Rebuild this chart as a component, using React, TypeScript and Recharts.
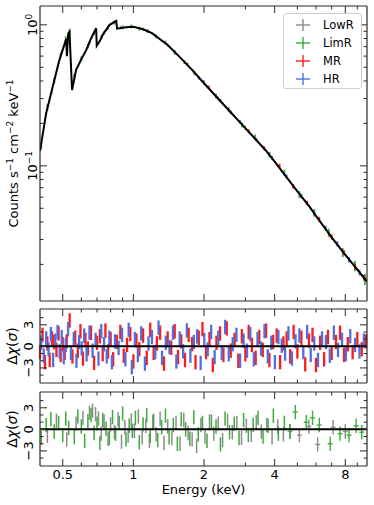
import React from "react";
import {
  ComposedChart,
  Line,
  Scatter,
  ErrorBar,
  XAxis,
  YAxis,
  ReferenceLine,
} from "recharts";

const FONT = "'DejaVu Sans', sans-serif";
const INK = "#2a2a2a";

const GRAY = "#8c8c8c";
const GREEN = "#3aad3a";
const RED = "#ff1a1a";
const BLUE = "#4f70e3";

// energy axis (keV, log)
const E_DOMAIN = [0.4, 9.9];
const E_MAJOR = [0.5, 1, 2, 4, 8];
const E_MAJOR_LABELS = ["0.5", "1", "2", "4", "8"];
const E_MINOR = [0.6, 0.7, 0.8, 0.9, 3, 5, 6, 7, 9];

// spectrum axis (log)
const FLUX_DOMAIN = [0.011, 1.36];
const FLUX_MAJOR = [0.1, 1];
const FLUX_MAJOR_EXP = ["−1", "0"];
const FLUX_MINOR = [0.02, 0.03, 0.04, 0.05, 0.06, 0.07, 0.08, 0.09, 0.2, 0.3, 0.4, 0.5, 0.6, 0.7, 0.8, 0.9];

// residual axes
const RES_DOMAIN = [-5.1, 5.2];
const RES_MAJOR = [-3, 0, 3];
const RES_MAJOR_LABELS = ["−3", "0", "3"];
const RES_MINOR = [-4, -2, -1, 1, 2, 4];
const SIGMA = 1;

// best-fit model
const MODEL_E = [0.4, 0.425, 0.453, 0.484, 0.505, 0.517, 0.521, 0.527, 0.534, 0.548,
  0.57, 0.6, 0.63, 0.66, 0.694, 0.698, 0.72, 0.74, 0.792, 0.845,
  0.852, 0.9, 0.95, 1.0, 1.1, 1.2, 1.4, 1.57, 1.8, 2.0,
  2.5, 3.0, 3.66, 4.0, 5.0, 5.64, 6.0, 7.0, 7.82, 9.0, 9.9];
const MODEL_F = [0.127, 0.236, 0.364, 0.564, 0.7, 0.795, 0.6, 0.86, 0.896, 0.345,
  0.479, 0.57, 0.664, 0.8, 0.947, 0.71, 0.77, 0.849, 1.0, 1.068,
  0.94, 0.955, 0.965, 0.97, 0.93, 0.873, 0.72, 0.595, 0.47, 0.385,
  0.257, 0.185, 0.129, 0.107, 0.0659, 0.0511, 0.0442, 0.0311, 0.0245, 0.0184, 0.0151];

// spectra
const LOWR_E = [0.45, 0.55, 0.65, 0.75, 0.88, 1.1, 1.4, 1.8, 2.3, 3.0];
const LOWR_F = [0.34, 0.36, 0.74, 0.88, 0.96, 0.93, 0.72, 0.47, 0.3, 0.186];
const LOWR_DF = [0.015, 0.015, 0.025, 0.025, 0.025, 0.025, 0.02, 0.015, 0.01, 0.007];

const LIMR_E = [0.405, 0.43, 0.46, 0.49, 0.515, 0.535, 0.56, 0.6, 0.64, 0.68,
  0.73, 0.78, 0.83, 0.9, 0.98, 1.06, 1.15, 1.25, 1.37, 1.5,
  1.65, 1.82, 2.0, 2.25, 2.55, 2.9, 3.3, 3.8, 4.4, 5.1,
  5.9, 6.8, 7.8, 8.8, 9.7];
const LIMR_F = [0.14, 0.26, 0.4, 0.61, 0.8, 0.88, 0.43, 0.575, 0.705, 0.875,
  0.815, 0.955, 1.04, 0.96, 0.975, 0.94, 0.905, 0.83, 0.75, 0.635,
  0.545, 0.455, 0.39, 0.312, 0.25, 0.195, 0.16, 0.12, 0.0895, 0.0625,
  0.0465, 0.0335, 0.0243, 0.0195, 0.0157];
const LIMR_DF = [0.009, 0.014, 0.018, 0.024, 0.03, 0.033, 0.02, 0.023, 0.026, 0.03,
  0.028, 0.031, 0.034, 0.03, 0.03, 0.03, 0.028, 0.027, 0.024, 0.021,
  0.018, 0.016, 0.014, 0.012, 0.01, 0.008, 0.007, 0.0055, 0.0045, 0.0036,
  0.0029, 0.0023, 0.0018, 0.0016, 0.0014];

const MR_SPEC_E = [1.7, 2.1, 2.6, 3.1, 3.6, 4.2, 4.8, 5.5, 6.2, 7.0, 7.9, 8.8, 9.6];
const MR_SPEC_F = [0.525, 0.362, 0.24, 0.176, 0.134, 0.1, 0.0715, 0.0545, 0.0418, 0.0313, 0.0242, 0.0193, 0.0161];
const MR_SPEC_DF = [0.014, 0.01, 0.007, 0.0055, 0.0042, 0.0034, 0.0026, 0.002, 0.0017, 0.0013, 0.0011, 0.0009, 0.0008];

const HR_SPEC_E = [1.5, 1.9, 2.35, 2.85, 3.35, 3.9, 4.5, 5.2, 5.9, 6.6, 7.4, 8.3, 9.2];
const HR_SPEC_F = [0.645, 0.42, 0.29, 0.205, 0.153, 0.114, 0.084, 0.061, 0.0465, 0.0362, 0.028, 0.0216, 0.0175];
const HR_SPEC_DF = [0.016, 0.011, 0.008, 0.006, 0.0046, 0.0036, 0.0029, 0.0023, 0.0018, 0.0014, 0.0012, 0.001, 0.0008];

// residuals, panel 1
const MR_E = [0.40, 0.41, 0.42, 0.43, 0.44, 0.45, 0.46, 0.47, 0.48, 0.49,
  0.50, 0.51, 0.52, 0.535, 0.55, 0.565, 0.58, 0.595, 0.61, 0.625,
  0.64, 0.66, 0.68, 0.70, 0.72, 0.74, 0.76, 0.78, 0.80, 0.82,
  0.85, 0.88, 0.91, 0.94, 0.97, 1.00, 1.03, 1.06, 1.10, 1.14,
  1.18, 1.22, 1.26, 1.30, 1.35, 1.40, 1.45, 1.50, 1.55, 1.60,
  1.66, 1.72, 1.78, 1.84, 1.90, 1.97, 2.04, 2.11, 2.18, 2.26,
  2.34, 2.42, 2.50, 2.60, 2.70, 2.80, 2.90, 3.00, 3.10, 3.20,
  3.32, 3.44, 3.56, 3.68, 3.80, 3.94, 4.08, 4.22, 4.36, 4.50,
  4.66, 4.82, 5.00, 5.20, 5.40, 5.60, 5.80, 6.00, 6.25, 6.50,
  6.75, 7.00, 7.30, 7.60, 7.90, 8.20, 8.60, 9.00, 9.40, 9.80];
const MR_R = [-0.8, 1.6, -2.2, 0.4, -1.9, 1.1, 0.6, -0.5, 1.8, -1.2,
  0.3, -0.9, 0.7, 3.6, -1.4, 1.2, -0.6, 2.1, -1.7, 0.9,
  -0.3, 1.9, -2.3, 0.5, 1.4, -1.1, 2.2, -0.7, 1.0, -1.8,
  0.6, 2.0, -1.3, 0.2, 1.7, -2.1, 0.8, -0.4, 1.5, -1.6,
  2.3, -0.9, 0.4, 1.9, -2.4, 1.1, -0.2, 2.1, -1.5, 0.7,
  -1.9, 1.6, 0.3, -2.2, 1.2, 2.4, -0.8, 1.0, -2.6, 0.5,
  1.8, -1.2, 2.5, -0.6, 0.9, -2.0, 1.4, -1.1, 2.0, 0.2,
  -1.6, 1.3, -0.5, 2.2, -1.9, 0.6, 1.5, -2.2, 0.4, 1.1,
  -1.4, 2.0, -0.7, 1.2, -2.5, 0.8, 1.6, -2.6, 0.5, -1.8,
  1.3, -0.9, 0.6, 1.9, -1.2, 0.3, -0.8, 1.0, -0.4, 0.7];

const HR_E = [0.405, 0.415, 0.425, 0.435, 0.445, 0.455, 0.465, 0.475, 0.485, 0.495,
  0.505, 0.515, 0.527, 0.542, 0.557, 0.572, 0.587, 0.602, 0.617, 0.632,
  0.65, 0.67, 0.69, 0.71, 0.73, 0.75, 0.77, 0.79, 0.81, 0.835,
  0.865, 0.895, 0.925, 0.955, 0.985, 1.015, 1.045, 1.08, 1.12, 1.16,
  1.20, 1.24, 1.28, 1.325, 1.375, 1.425, 1.475, 1.525, 1.575, 1.63,
  1.69, 1.75, 1.81, 1.87, 1.935, 2.005, 2.075, 2.145, 2.22, 2.30,
  2.38, 2.46, 2.55, 2.65, 2.75, 2.85, 2.95, 3.05, 3.15, 3.26,
  3.38, 3.50, 3.62, 3.74, 3.87, 4.01, 4.15, 4.29, 4.43, 4.58,
  4.74, 4.91, 5.10, 5.30, 5.50, 5.70, 5.90, 6.12, 6.37, 6.62,
  6.87, 7.15, 7.45, 7.75, 8.05, 8.40, 8.80, 9.20, 9.60];
const HR_R = [0.5, -1.3, 1.1, -0.4, 1.7, -1.9, 0.8, 2.0, -0.7, 1.3,
  -1.5, 0.2, 2.4, -0.9, 1.0, -2.0, 0.6, -0.3, 1.5, -1.1,
  1.9, -0.6, 0.9, -1.7, 2.1, 0.3, -1.4, 1.2, -2.2, 0.7,
  -0.2, 1.6, -1.8, 2.3, -2.9, 1.0, -1.2, 1.8, -2.4, 0.4,
  1.3, -0.8, 2.6, -1.6, 0.5, -0.1, 1.9, -2.1, 1.1, -0.7,
  2.2, -1.3, 0.6, 1.4, -2.3, 0.9, -0.4, 2.0, -1.5, 1.2,
  -0.9, 2.7, -1.1, 0.3, 1.6, -2.0, 0.8, -0.6, 1.7, -1.8,
  1.0, -0.3, 2.1, -1.4, 0.5, -2.2, 1.3, 0.1, -1.0, 1.8,
  -1.7, 0.7, 1.5, -0.8, 2.0, -1.2, 0.4, -1.9, 1.1, 0.6,
  -1.3, 1.9, -0.5, 0.9, -1.1, 1.4, 0.2, -0.7, 0.8];

// residuals, panel 2
const LOWR_RES_E = [0.43, 0.47, 0.52, 0.57, 0.61, 0.65, 0.67, 0.69, 0.71, 0.73,
  0.75, 0.78, 0.80, 0.83, 0.86, 0.89, 0.92, 0.95, 0.98, 1.01,
  1.05, 1.09, 1.13, 1.17, 1.21, 1.25, 1.30, 1.35, 1.40, 1.46,
  1.52, 1.58, 1.64, 1.71, 1.78, 1.86, 1.94, 2.02, 2.11, 2.20,
  2.30, 2.40, 2.52, 2.64, 2.76, 2.89, 3.03, 3.18, 3.34, 3.51,
  3.70, 3.90, 4.12, 4.36];
const LOWR_RES_R = [-0.9, 1.2, -1.4, 0.8, 1.6, 2.3, 2.6, 2.1, 1.5, -0.6,
  1.1, -1.3, 0.7, -0.4, 1.4, -1.7, 0.3, -0.9, 1.2, -0.2,
  1.8, -1.1, 0.5, -1.6, 1.0, -0.7, 1.5, -1.9, 0.4, -1.2,
  0.9, -2.0, 1.3, -0.5, -1.4, -2.3, 0.6, -1.0, 1.1, -0.6,
  0.8, -1.5, 1.2, -0.4, 0.9, -1.2, 0.5, -0.8, 1.0, -0.3,
  0.6, -1.1, 0.4, -0.7];
const LOWR_HI_E = [4.65, 5.1, 5.6, 6.1, 7.1, 8.0];
const LOWR_HI_R = [-0.3, -0.8, 0.4, -2.1, 0.3, -0.3];
const LOWR_HI_DE = [0.11, 0.12, 0.13, 0.15, 0.17, 0.19];

const LIMR_RES_E = [0.405, 0.425, 0.445, 0.46, 0.48, 0.50, 0.515, 0.53, 0.56, 0.58,
  0.60, 0.62, 0.64, 0.66, 0.68, 0.70, 0.72, 0.74, 0.765, 0.79,
  0.815, 0.84, 0.87, 0.90, 0.93, 0.96, 0.99, 1.02, 1.06, 1.10,
  1.14, 1.18, 1.22, 1.27, 1.32, 1.37, 1.42, 1.48, 1.54, 1.60,
  1.67, 1.74, 1.81, 1.89, 1.97, 2.06, 2.15, 2.25, 2.35, 2.46,
  2.57, 2.69, 2.82, 2.95, 3.09, 3.24, 3.40, 3.57, 3.75, 3.95,
  4.15, 4.40, 4.65];
const LIMR_RES_R = [-1.2, 0.6, 1.4, -0.3, 0.9, -0.8, 1.5, 0.2, -1.1, 1.8,
  0.4, -1.6, 1.1, 2.0, -0.5, 0.8, -1.9, 1.3, 0.1, -1.2,
  1.7, -0.6, 0.9, 2.2, -1.4, 0.5, -0.2, 1.6, -1.8, 0.7,
  2.0, -0.9, 1.2, -1.5, 0.3, 1.9, -1.1, 0.6, -2.0, 1.4,
  0.0, -1.3, 1.7, -0.7, 0.9, -1.6, 1.1, 0.4, -2.1, 1.5,
  -0.4, 0.8, -1.2, 1.3, -0.8, 0.6, 1.6, -1.0, 0.5, 1.9,
  -0.6, 0.9, -0.3];
const LIMR_HI_E = [4.9, 5.45, 5.8, 6.2, 6.9, 7.6, 8.3, 8.9, 9.4];
const LIMR_HI_R = [2.4, 1.0, 1.6, 0.6, -2.0, -0.6, -0.8, 0.5, -0.4];
const LIMR_HI_DE = [0.12, 0.13, 0.14, 0.15, 0.17, 0.18, 0.2, 0.21, 0.22];

const LEGEND = [
  { name: "LowR", color: GRAY },
  { name: "LimR", color: GREEN },
  { name: "MR", color: RED },
  { name: "HR", color: BLUE },
];

function rows(es: number[], vs: number[], errs?: number[], xerrs?: number[]) {
  return es
    .map((e, i) => ({ e, v: vs[i], s: errs ? errs[i] : SIGMA, dx: xerrs ? xerrs[i] : 0 }))
    .filter((r) => r.v !== undefined);
}

const model = rows(MODEL_E, MODEL_F);
const lowrSpec = rows(LOWR_E, LOWR_F, LOWR_DF);
const limrSpec = rows(LIMR_E, LIMR_F, LIMR_DF);
const mrSpec = rows(MR_SPEC_E, MR_SPEC_F, MR_SPEC_DF);
const hrSpec = rows(HR_SPEC_E, HR_SPEC_F, HR_SPEC_DF);
const mrRes = rows(MR_E, MR_R);
const hrRes = rows(HR_E, HR_R);
const lowrRes = rows(LOWR_RES_E, LOWR_RES_R);
const lowrHi = rows(LOWR_HI_E, LOWR_HI_R, undefined, LOWR_HI_DE);
const limrRes = rows(LIMR_RES_E, LIMR_RES_R);
const limrHi = rows(LIMR_HI_E, LIMR_HI_R, undefined, LIMR_HI_DE);

const E_TICKS = [...E_MAJOR, ...E_MINOR].sort((a, b) => a - b);
const FLUX_TICKS = [...FLUX_MAJOR, ...FLUX_MINOR].sort((a, b) => a - b);
const RES_TICKS = [...RES_MAJOR, ...RES_MINOR].sort((a, b) => a - b);

const noMark = () => <g />;

function xTick(side: "top" | "bottom", withLabels: boolean) {
  return (props: any) => {
    const { x, y, payload } = props;
    const i = E_MAJOR.indexOf(payload.value);
    const len = i >= 0 ? 7 : 3.5;
    const dir = side === "bottom" ? -1 : 1;
    return (
      <g>
        <line x1={x} x2={x} y1={y} y2={y + dir * len} stroke={INK} strokeWidth={1} />
        {withLabels && i >= 0 && (
          <text x={x} y={y + 13} textAnchor="middle" fontSize={13} fontFamily={FONT} fill="#000">
            {E_MAJOR_LABELS[i]}
          </text>
        )}
      </g>
    );
  };
}

function yTick(side: "left" | "right", majors: number[], label?: (i: number, bx: number, cy: number) => any, gap = 0) {
  return (props: any) => {
    const { x, y, payload } = props;
    const i = majors.indexOf(payload.value);
    const len = i >= 0 ? 7 : 3.5;
    const dir = side === "left" ? 1 : -1;
    return (
      <g>
        <line x1={x} x2={x + dir * len} y1={y} y2={y} stroke={INK} strokeWidth={1} />
        {label && i >= 0 && label(i, x - gap, y)}
      </g>
    );
  };
}

const fluxLabel = (i: number, bx: number, cy: number) => (
  <text x={bx} y={cy} transform={`rotate(-90 ${bx} ${cy})`} textAnchor="middle" fontSize={13} fontFamily={FONT} fill="#000">
    10<tspan dy={-5} fontSize={9}>{FLUX_MAJOR_EXP[i]}</tspan>
  </text>
);

const resTickLabel = (i: number, bx: number, cy: number) => (
  <text x={bx} y={cy} transform={`rotate(-90 ${bx} ${cy})`} textAnchor="middle" fontSize={13} fontFamily={FONT} fill="#000">
    {RES_MAJOR_LABELS[i]}
  </text>
);

const spectrumTitle = (props: any) => {
  const vb = props.viewBox || { y: 6, height: 295 };
  const cy = vb.y + vb.height / 2;
  const bx = 18;
  return (
    <text x={bx} y={cy} transform={`rotate(-90 ${bx} ${cy})`} textAnchor="middle" fontSize={13} fontFamily={FONT} fill="#000">
      Counts s<tspan dy={-5} fontSize={9}>−1</tspan>
      <tspan dy={5}> cm</tspan>
      <tspan dy={-5} fontSize={9}>−2</tspan>
      <tspan dy={5}> keV</tspan>
      <tspan dy={-5} fontSize={9}>−1</tspan>
    </text>
  );
};

const residualTitle = (props: any) => {
  const vb = props.viewBox || { y: 0, height: 74 };
  const cy = vb.y + vb.height / 2;
  const bx = 16.5;
  return (
    <text x={bx} y={cy} transform={`rotate(-90 ${bx} ${cy})`} textAnchor="middle" fontSize={14} fontFamily={FONT} fill="#000">
      Δ<tspan fontStyle="italic">χ</tspan>(<tspan fontStyle="italic">σ</tspan>)
    </text>
  );
};

const energyTitle = (props: any) => {
  const vb = props.viewBox || { x: 40, y: 466, width: 327 };
  const cx = vb.x + vb.width / 2;
  return (
    <text x={cx} y={vb.y + 28} textAnchor="middle" fontSize={13} fontFamily={FONT} fill="#000">
      Energy (keV)
    </text>
  );
};

const spine = { stroke: INK, strokeWidth: 1.2 };

function frameAxes(yDomain: number[], yScale: "log" | "linear", yTicks: number[], yMajors: number[], yLabel: any, gap: number, title: any, bottomLabels: boolean) {
  return [
    <XAxis key="xb" xAxisId={0} dataKey="e" type="number" scale="log" domain={E_DOMAIN} allowDataOverflow
      ticks={E_TICKS} interval={0} height={1} tickSize={0} tickMargin={0} axisLine={spine} tickLine={false}
      tick={xTick("bottom", bottomLabels)} label={bottomLabels ? energyTitle : undefined} />,
    <XAxis key="xt" xAxisId="top" orientation="top" dataKey="e" type="number" scale="log" domain={E_DOMAIN} allowDataOverflow
      ticks={E_TICKS} interval={0} height={1} tickSize={0} tickMargin={0} axisLine={spine} tickLine={false}
      tick={xTick("top", false)} />,
    <YAxis key="yl" yAxisId={0} type="number" scale={yScale} domain={yDomain} allowDataOverflow
      ticks={yTicks} interval={0} width={1} tickSize={0} tickMargin={0} axisLine={spine} tickLine={false}
      tick={yTick("left", yMajors, yLabel, gap)} label={title} />,
    <YAxis key="yr" yAxisId="right" orientation="right" type="number" scale={yScale} domain={yDomain} allowDataOverflow
      ticks={yTicks} interval={0} width={1} tickSize={0} tickMargin={0} axisLine={spine} tickLine={false}
      tick={yTick("right", yMajors)} />,
  ];
}

function Legend() {
  return (
    <div style={{ position: "absolute", left: 283, top: 13, width: 77, height: 74, border: "1px solid #cfcfcf", borderRadius: 3, background: "rgba(255,255,255,0.85)", fontFamily: FONT, fontSize: 11.5 }}>
      {LEGEND.map((l, i) => (
        <div key={l.name} style={{ position: "absolute", left: 0, top: 3 + i * 18, height: 16, width: 77 }}>
          <svg width={16} height={14} style={{ position: "absolute", left: 11, top: 1 }}>
            <line x1={1} x2={15} y1={7} y2={7} stroke={l.color} strokeWidth={1.4} />
            <line x1={8} x2={8} y1={1} y2={13} stroke={l.color} strokeWidth={1.4} />
          </svg>
          <span style={{ position: "absolute", left: 39, top: 1, color: "#000" }}>{l.name}</span>
        </div>
      ))}
    </div>
  );
}

export default function App() {
  return (
    <div style={{ position: "absolute", left: 0, top: 0, width: 374, height: 505, background: "#fff" }}>
      <div style={{ position: "absolute", left: 0, top: 0 }}>
        <ComposedChart width={374} height={302} margin={{ top: 5, right: 6, left: 39, bottom: 0 }}>
          {frameAxes(FLUX_DOMAIN, "log", FLUX_TICKS, FLUX_MAJOR, fluxLabel, 2.5, spectrumTitle, false)}
          <Scatter data={lowrSpec} dataKey="v" shape={noMark} isAnimationActive={false}>
            <ErrorBar dataKey="s" direction="y" width={0} stroke={GRAY} strokeWidth={1.4} />
          </Scatter>
          <Scatter data={limrSpec} dataKey="v" shape={noMark} isAnimationActive={false}>
            <ErrorBar dataKey="s" direction="y" width={0} stroke={GREEN} strokeWidth={1.8} />
          </Scatter>
          <Scatter data={mrSpec} dataKey="v" shape={noMark} isAnimationActive={false}>
            <ErrorBar dataKey="s" direction="y" width={0} stroke={RED} strokeWidth={1.8} />
          </Scatter>
          <Scatter data={hrSpec} dataKey="v" shape={noMark} isAnimationActive={false}>
            <ErrorBar dataKey="s" direction="y" width={0} stroke={BLUE} strokeWidth={1.8} />
          </Scatter>
          <Line data={model} dataKey="v" type="linear" stroke="#000" strokeWidth={2} dot={false} isAnimationActive={false} />
        </ComposedChart>
        <Legend />
      </div>

      <div style={{ position: "absolute", left: 0, top: 300 }}>
        <ComposedChart width={374} height={84} margin={{ top: 8, right: 6, left: 39, bottom: 0 }}>
          {frameAxes(RES_DOMAIN, "linear", RES_TICKS, RES_MAJOR, resTickLabel, 6.5, residualTitle, false)}
          <Scatter data={mrRes} dataKey="v" shape={noMark} isAnimationActive={false}>
            <ErrorBar dataKey="s" direction="y" width={0} stroke={RED} strokeWidth={2.3} />
          </Scatter>
          <Scatter data={hrRes} dataKey="v" shape={noMark} isAnimationActive={false}>
            <ErrorBar dataKey="s" direction="y" width={0} stroke={BLUE} strokeWidth={2.3} />
          </Scatter>
          <ReferenceLine y={0} stroke="#000" strokeWidth={2} />
        </ComposedChart>
      </div>

      <div style={{ position: "absolute", left: 0, top: 385 }}>
        <ComposedChart width={374} height={120} margin={{ top: 6, right: 6, left: 39, bottom: 38 }}>
          {frameAxes(RES_DOMAIN, "linear", RES_TICKS, RES_MAJOR, resTickLabel, 6.5, residualTitle, true)}
          <Scatter data={lowrRes} dataKey="v" shape={noMark} isAnimationActive={false}>
            <ErrorBar dataKey="s" direction="y" width={0} stroke={GRAY} strokeWidth={1.5} />
          </Scatter>
          <Scatter data={lowrHi} dataKey="v" shape={noMark} isAnimationActive={false}>
            <ErrorBar dataKey="s" direction="y" width={0} stroke={GRAY} strokeWidth={1.4} />
            <ErrorBar dataKey="dx" direction="x" width={0} stroke={GRAY} strokeWidth={1.4} />
          </Scatter>
          <Scatter data={limrRes} dataKey="v" shape={noMark} isAnimationActive={false}>
            <ErrorBar dataKey="s" direction="y" width={0} stroke={GREEN} strokeWidth={1.5} />
          </Scatter>
          <Scatter data={limrHi} dataKey="v" shape={noMark} isAnimationActive={false}>
            <ErrorBar dataKey="s" direction="y" width={0} stroke={GREEN} strokeWidth={1.4} />
            <ErrorBar dataKey="dx" direction="x" width={0} stroke={GREEN} strokeWidth={1.4} />
          </Scatter>
          <ReferenceLine y={0} stroke="#000" strokeWidth={2} />
        </ComposedChart>
      </div>
    </div>
  );
}
